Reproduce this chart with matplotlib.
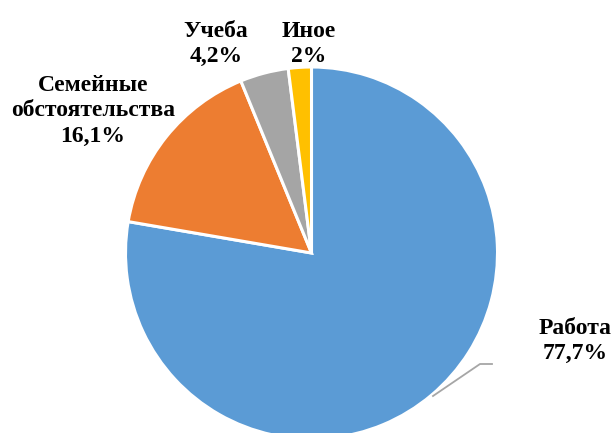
import matplotlib
matplotlib.use("Agg")
import matplotlib.pyplot as plt

categories = ["Работа", "Семейные\nобстоятельства", "Учеба", "Иное"]
values = [77.7, 16.1, 4.2, 2.0]
pct_labels = ["77,7%", "16,1%", "4,2%", "2%"]
colors = ["#5B9BD5", "#ED7D31", "#A5A5A5", "#FFC000"]

W, H = 613, 433
fig = plt.figure(figsize=(W / 100, H / 100), dpi=100)
ax = fig.add_axes([0, 0, 1, 1])

cx, cy, r = 311.5, H - 253, 186
ax.pie(values, colors=colors, startangle=90, counterclock=False,
       center=(cx, cy), radius=r, frame=True,
       wedgeprops=dict(edgecolor="white", linewidth=2.2))
ax.set_xlim(0, W)
ax.set_ylim(0, H)
ax.set_aspect("equal")
ax.axis("off")

font = dict(family="Liberation Serif", fontweight="bold", fontsize=17,
            ha="center", va="center", linespacing=1.3)
label_pos = [(575, H - 341), (93, H - 111), (216, H - 44), (309, H - 44)]
for name, pct, (x, y) in zip(categories, pct_labels, label_pos):
    ax.text(x, y, f"{name}\n{pct}", **font)

# leader line for Работа
ax.plot([433, 480, 492], [H - 396, H - 364, H - 364], color="#A6A6A6", lw=1.3)

fig.savefig("out.png", dpi=100)
